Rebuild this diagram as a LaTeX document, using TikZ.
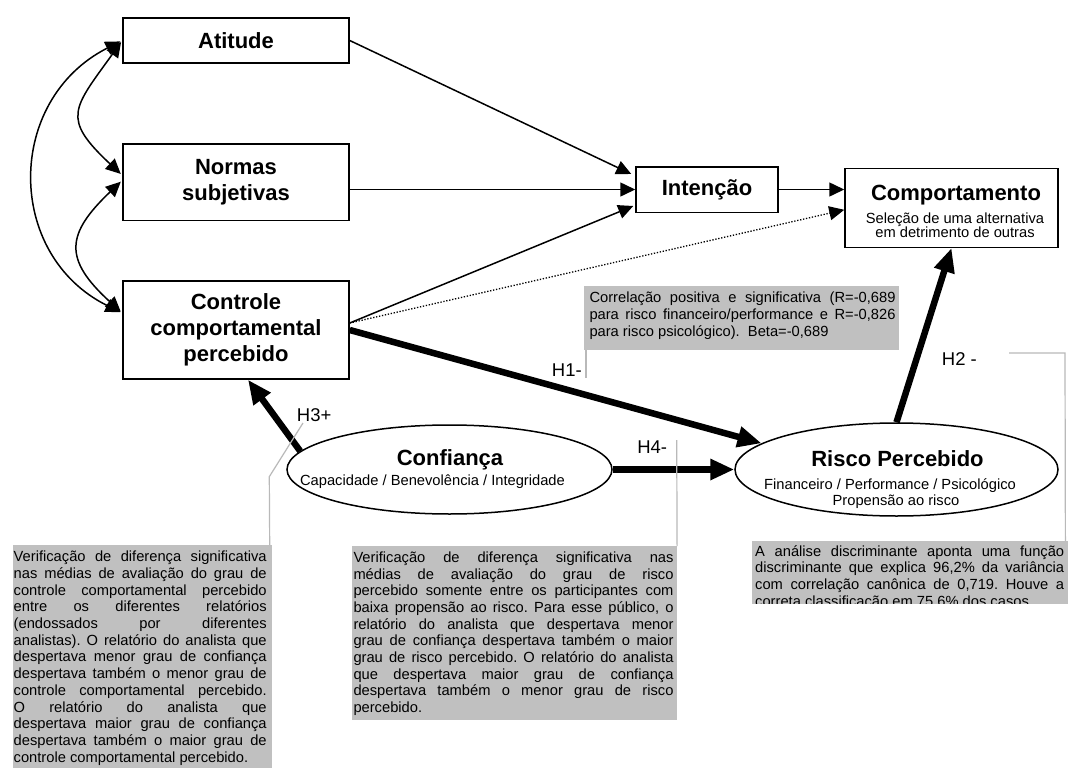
\documentclass[tikz,border=0pt]{standalone}
\usepackage{fontspec}
\setmainfont{Liberation Sans}
\usetikzlibrary{arrows.meta,shapes.geometric,calc}

\definecolor{notefill}{RGB}{192,192,192}
\definecolor{noteline}{RGB}{185,185,185}

\newcommand\cfTitle{\fontsize{22}{25.8}\selectfont\bfseries}
\newcommand\cfSub{\fontsize{14.7}{14.4}\selectfont}
\newcommand\cfNote{\fontsize{14.7}{16.7}\selectfont\frenchspacing
  \tolerance=10000 \hyphenpenalty=10000 \exhyphenpenalty=10000 }
\newcommand\cfHyp{\fontsize{18.5}{20}\selectfont}

\begin{document}
\begin{tikzpicture}[x=1pt,y=-1pt,
  construct/.style={draw, line width=1.5pt, rectangle, inner sep=0pt,
    align=center, font=\cfTitle},
  latent/.style={draw, line width=1.5pt, ellipse, inner sep=0pt},
  caption/.style={anchor=base, inner sep=0pt},
  effect/.style={line width=1.5pt, -{Triangle[length=15pt,width=14pt]}},
  weakeffect/.style={line width=1.3pt, dash pattern=on 1.3pt off 1.7pt,
    -{Triangle[length=15pt,width=14pt]}},
  corr/.style={line width=1.5pt, shorten <=2pt, shorten >=2pt,
    {Triangle[length=15pt,width=14pt]}-{Triangle[length=15pt,width=14pt]}},
  strong/.style={line width=6.5pt, -{Triangle[length=24pt,width=20pt]}},
  notebox/.style={fill=notefill, inner sep=0pt, anchor=north west},
  notetext/.style={anchor=base west, inner sep=0pt, align=justify, font=\cfNote},
  leader/.style={draw=noteline, line width=1.2pt},
  hyp/.style={inner sep=0pt, font=\cfHyp},
]
\useasboundingbox (0,0) rectangle (1069,768);
\fill[white] (0,0) rectangle (1069,768);

% ---- explanatory notes (grey boxes) ----
\node[notebox, minimum width=315, minimum height=64] (n1) at (584,286) {};
\node[notetext, text width=306] (n1t) at (589.3,302.7)
  {Correlação positiva e significativa (R=-0,689\linebreak
   para risco financeiro/performance e R=-0,826\linebreak
   para risco psicológico).~~Beta=-0,689};

\node[notebox, minimum width=259, minimum height=223] (n2) at (12.7,545) {};
\node[notetext, text width=253] (n2t) at (13.5,561.7)
  {Verificação de diferença significativa\linebreak
   nas médias de avaliação do grau de\linebreak
   controle comportamental percebido\linebreak
   entre os diferentes relatórios\linebreak
   (endossados por diferentes\linebreak
   analistas). O relatório do analista que\linebreak
   despertava menor grau de confiança\linebreak
   despertava também o menor grau de\linebreak
   controle comportamental percebido.\linebreak
   O relatório do analista que\linebreak
   despertava maior grau de confiança\linebreak
   despertava também o maior grau de\linebreak
   controle comportamental percebido.};

\node[notebox, minimum width=325, minimum height=174] (n3) at (351.7,546) {};
\node[notetext, text width=320] (n3t) at (353.3,562.3)
  {Verificação de diferença significativa nas\linebreak
   médias de avaliação do grau de risco\linebreak
   percebido somente entre os participantes com\linebreak
   baixa propensão ao risco. Para esse público, o\linebreak
   relatório do analista que despertava menor\linebreak
   grau de confiança despertava também o maior\linebreak
   grau de risco percebido. O relatório do analista\linebreak
   que despertava maior grau de confiança\linebreak
   despertava também o menor grau de risco\linebreak
   percebido.};

\node[notebox, minimum width=316, minimum height=62.5] (n4) at (752,541) {};
\begin{scope}
  \clip (n4.south west) rectangle (n4.north east);
  \node[notetext, text width=309] (n4t) at (755,556)
    {A análise discriminante aponta uma função\linebreak
     discriminante que explica 96,2\% da variância\linebreak
     com correlação canônica de 0,719. Houve a\linebreak
     correta classificação em 75,6\% dos casos.};
\end{scope}

% ---- constructs ----
\node[construct, minimum width=226, minimum height=45]   (att) at (236,40.5)  {Atitude};
\node[construct, minimum width=226, minimum height=76.7] (nor) at (236,182.3) {Normas\\subjetivas};
\node[construct, minimum width=226, minimum height=98]   (ctl) at (236,330)   {Controle\\comportamental\\percebido};
\node[construct, minimum width=142, minimum height=45.5] (int) at (707,189.5) {Intenção};
\node[construct, minimum width=213, minimum height=79]   (com) at (951.5,207.8) {};
\node[caption, font=\cfTitle] (comt)  at (956,200) {Comportamento};
\node[caption, font=\cfSub]   (coms1) at (955,223) {Seleção de uma alternativa};
\node[caption, font=\cfSub]   (coms2) at (955,237) {em detrimento de outras};

\node[latent, minimum width=325, minimum height=89] (conf) at (449.5,469.5) {};
\node[caption, font=\cfTitle] (conft) at (450,465.5) {Confiança};
\node[caption, font=\cfSub]   (confs) at (432.5,485) {Capacidade / Benevolência / Integridade};

\node[latent, minimum width=323, minimum height=93] (risk) at (896.5,469.5) {};
\node[caption, font=\cfTitle] (riskt)  at (897.5,466.7) {Risco Percebido};
\node[caption, font=\cfSub]   (risks1) at (890,489) {Financeiro / Performance / Psicológico};
\node[caption, font=\cfSub]   (risks2) at (896,505) {Propensão ao risco};

% ---- correlations among the antecedents ----
\draw[corr] (att.west) .. controls (5,100) and (5,255) .. ([yshift=17pt]ctl.west);
\draw[corr] (att.west) .. controls (73,109) and (61,118) .. ([yshift=7pt]nor.west);
\draw[corr] ([yshift=2pt]nor.west) .. controls (66,234) and (63,259) .. ([yshift=17pt]ctl.west);

% ---- theory of planned behaviour paths ----
\draw[effect] (att.east) -- ([xshift=-4pt,yshift=-8pt]int.north west);
\draw[effect] (nor.east |- int.west) -- (int.west);
\draw[effect] ([yshift=7pt]ctl.east) -- ([xshift=-2pt,yshift=7pt]int.south west);
\draw[effect] (int.east) -- (int.east -| com.west);
\draw[weakeffect] ([yshift=7pt]ctl.east) -- ([yshift=-2pt]com.west);

% ---- tested hypotheses ----
\draw[strong] (ctl.east) -- (risk.169);
\draw[strong] (conf.173) -- ([xshift=12pt]ctl.south);
\draw[strong] (conf.east) -- (risk.west);
\draw[strong] (risk.north) -- (com.south);

% ---- hypothesis labels and leaders to the notes ----
\coordinate (h1end) at (586,378);
\draw[leader] ([xshift=2pt]n1.south west) -- (h1end);
\node[hyp, anchor=base east] (h1) at (582,376.5) {H1-};

\coordinate (h2a) at (1009,353);
\coordinate (h2b) at (1065,353);
\draw[leader] (h2a) -- (h2b) -- ([xshift=-3pt]n4.north east);
\node[hyp, anchor=base west] (h2) at (941.7,365) {H2 -};

\coordinate (h3a) at (303,423);
\coordinate (h3b) at (269.3,476.7);
\draw[leader] ([xshift=-2.4pt]n2.north east) -- (h3b) -- (h3a);
\node[hyp, anchor=base west] (h3) at (296.7,421.7) {H3+};

\coordinate (h4a) at (676.7,440);
\draw[leader] (n3.north east) -- (h4a);
\node[hyp, anchor=base east] (h4) at (667.3,453.3) {H4-};
\end{tikzpicture}
\end{document}
